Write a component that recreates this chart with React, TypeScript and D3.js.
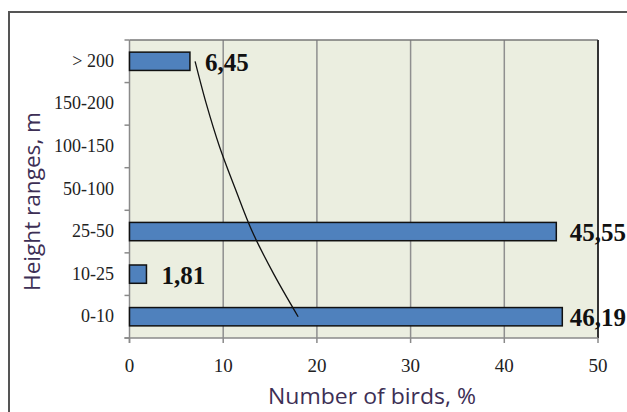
import React from "react";
import * as d3 from "d3";

const categories = ["0-10", "10-25", "25-50", "50-100", "100-150", "150-200", "> 200"];
const values = [46.19, 1.81, 45.55, 0, 0, 0, 6.45];
const trendValues = [18.0, 15.4, 13.1, 11.3, 9.6, 8.2, 7.0];
const xTicks = [0, 10, 20, 30, 40, 50];

const W = 627;
const H = 412;
const plot = { left: 129.5, right: 598, top: 40, bottom: 338 };

export default function App() {
  const x = d3.scaleLinear().domain([0, 50]).range([plot.left, plot.right]);
  // categories drawn bottom-up
  const y = d3
    .scaleBand<string>()
    .domain([...categories].reverse())
    .range([plot.top, plot.bottom])
    .paddingInner(0.57)
    .paddingOuter(0.285);
  const step = y.step();
  const center = (c: string) => (y(c) as number) + y.bandwidth() / 2;

  const trendPts: [number, number][] = categories.map((c, i) => [x(trendValues[i]), center(c)]);
  const trendLine = d3.line().curve(d3.curveCatmullRom.alpha(0.5))(trendPts) as string;

  const boundaries = d3.range(categories.length + 1).map((i) => plot.top + i * step);
  const fmt = (v: number) => v.toFixed(2).replace(".", ",");
  const serif = "'Liberation Serif', 'Times New Roman', serif";
  const sans = "'Open Sans', 'Noto Sans', sans-serif";
  const titleColor = "#3d2f55";

  return (
    <svg
      width={W}
      height={H}
      style={{ position: "absolute", left: 0, top: 0, background: "#fff" }}
    >
      <rect x={9} y={12} width={700} height={500} fill="#fff" stroke="#555" strokeWidth={2} />
      <rect
        x={plot.left}
        y={plot.top}
        width={plot.right - plot.left}
        height={plot.bottom - plot.top}
        fill="#ebeee0"
      />
      {xTicks.slice(1, -1).map((t) => (
        <line key={t} x1={x(t)} x2={x(t)} y1={plot.top} y2={plot.bottom} stroke="#8f8f8f" strokeWidth={1.5} />
      ))}
      {/* plot border */}
      <line x1={plot.left} x2={plot.right} y1={plot.top} y2={plot.top} stroke="#777" strokeWidth={1.5} />
      <line x1={plot.right} x2={plot.right} y1={plot.top} y2={plot.bottom} stroke="#333" strokeWidth={2} />
      {/* axes */}
      <line x1={plot.left} x2={plot.left} y1={plot.top} y2={plot.bottom + 5} stroke="#8a8a8a" strokeWidth={1.5} />
      <line x1={plot.left - 5} x2={plot.right} y1={plot.bottom} y2={plot.bottom} stroke="#8a8a8a" strokeWidth={1.5} />
      {boundaries.map((b, i) => (
        <line key={i} x1={plot.left - 5} x2={plot.left} y1={b} y2={b} stroke="#8a8a8a" strokeWidth={1.5} />
      ))}
      {xTicks.map((t) => (
        <line key={t} x1={x(t)} x2={x(t)} y1={plot.bottom} y2={plot.bottom + 5} stroke="#8a8a8a" strokeWidth={1.5} />
      ))}
      {/* bars */}
      {categories.map((c, i) =>
        values[i] > 0 ? (
          <rect
            key={c}
            x={x(0)}
            y={y(c)}
            width={x(values[i]) - x(0)}
            height={y.bandwidth()}
            fill="#4f81bd"
            stroke="#111"
            strokeWidth={1.5}
          />
        ) : null
      )}
      {/* trendline */}
      <path d={trendLine} fill="none" stroke="#111" strokeWidth={1.3} />
      {/* data labels */}
      {categories.map((c, i) => {
        if (values[i] <= 0) return null;
        const label = fmt(values[i]);
        const estW = label.length * 12.5;
        const start = x(values[i]) + 15;
        const overflow = start + estW > 625;
        return (
          <text
            key={c}
            x={overflow ? 626 : start}
            y={center(c) + 9.5}
            textAnchor={overflow ? "end" : "start"}
            fontFamily={serif}
            fontWeight="bold"
            fontSize={25}
            fill="#111"
          >
            {label}
          </text>
        );
      })}
      {/* y tick labels */}
      {categories.map((c) => (
        <text
          key={c}
          x={114}
          y={center(c) + 5.5}
          textAnchor="end"
          fontFamily={serif}
          fontSize={18}
          fill="#222"
        >
          {c}
        </text>
      ))}
      {/* x tick labels */}
      {xTicks.map((t) => (
        <text key={t} x={x(t)} y={372} textAnchor="middle" fontFamily={serif} fontSize={19} fill="#222">
          {t}
        </text>
      ))}
      <text
        x={372}
        y={404}
        textAnchor="middle"
        fontFamily={sans}
        fontSize={21}
        textLength={208}
        lengthAdjust="spacingAndGlyphs"
        fill={titleColor}
      >
        Number of birds, %
      </text>
      <text
        transform="translate(40,201.5) rotate(-90)"
        textAnchor="middle"
        fontFamily={sans}
        fontSize={21}
        textLength={179}
        lengthAdjust="spacingAndGlyphs"
        fill={titleColor}
      >
        Height ranges, m
      </text>
    </svg>
  );
}
